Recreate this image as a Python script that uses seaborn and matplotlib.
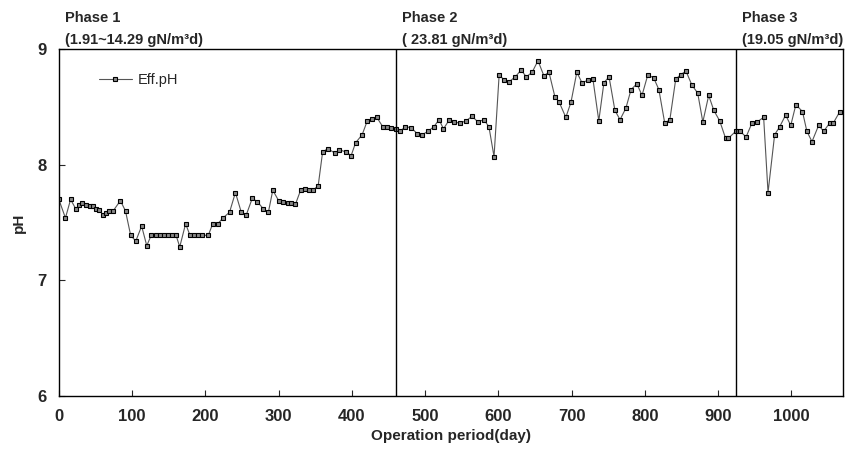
import matplotlib
matplotlib.use("Agg")
import matplotlib.pyplot as plt
import seaborn as sns
import pandas as pd

# effluent pH
days = [0, 9, 16, 23, 28, 32, 37, 42, 46, 51, 55, 60, 64, 68, 74, 84, 91, 98, 105, 113,
        120, 126, 132, 138, 143, 149, 155, 160, 165, 173, 179, 185, 190, 196, 204, 210, 217,
        224, 233, 241, 249, 256, 264, 271, 279, 286, 292, 300, 306, 313, 317, 323, 330, 336,
        342, 347, 354, 360, 367, 377, 383, 392, 399, 405, 414, 421, 428, 434, 442, 448, 454,
        460, 466, 473, 481, 489, 496, 504, 512, 519, 525, 533, 540, 547, 556, 564, 572, 580,
        587, 594, 601, 608, 615, 623, 631, 638, 646, 654, 662, 669, 677, 683, 692, 699, 707,
        714, 722, 729, 737, 744, 751, 759, 766, 774, 781, 789, 796, 804, 812, 819, 827, 834,
        842, 849, 856, 864, 872, 879, 887, 894, 902, 910, 914, 924, 930, 938, 946, 953, 962,
        968, 977, 984, 992, 999, 1006, 1015, 1021, 1028, 1037, 1044, 1052, 1057, 1066]
eff_ph = [7.70, 7.54, 7.70, 7.62, 7.65, 7.67, 7.65, 7.64, 7.64, 7.62, 7.61, 7.57, 7.58, 7.60,
          7.60, 7.69, 7.60, 7.39, 7.34, 7.47, 7.30, 7.39, 7.39, 7.39, 7.39, 7.39, 7.39, 7.39,
          7.29, 7.49, 7.39, 7.39, 7.39, 7.39, 7.39, 7.49, 7.49, 7.54, 7.59, 7.76, 7.59, 7.57,
          7.71, 7.68, 7.62, 7.59, 7.78, 7.69, 7.68, 7.67, 7.67, 7.66, 7.78, 7.79, 7.78, 7.78,
          7.82, 8.11, 8.14, 8.10, 8.13, 8.11, 8.08, 8.19, 8.26, 8.38, 8.40, 8.41, 8.33, 8.33,
          8.32, 8.31, 8.29, 8.33, 8.32, 8.27, 8.26, 8.29, 8.33, 8.39, 8.31, 8.39, 8.37, 8.36,
          8.38, 8.42, 8.37, 8.39, 8.33, 8.07, 8.78, 8.73, 8.72, 8.76, 8.82, 8.76, 8.80, 8.90,
          8.77, 8.80, 8.59, 8.54, 8.41, 8.54, 8.80, 8.71, 8.73, 8.74, 8.38, 8.71, 8.76, 8.47,
          8.39, 8.49, 8.65, 8.70, 8.60, 8.78, 8.75, 8.65, 8.36, 8.39, 8.74, 8.78, 8.81, 8.69,
          8.62, 8.37, 8.60, 8.47, 8.38, 8.23, 8.23, 8.29, 8.29, 8.24, 8.36, 8.37, 8.41, 7.76,
          8.26, 8.33, 8.43, 8.34, 8.52, 8.46, 8.29, 8.20, 8.34, 8.29, 8.36, 8.36, 8.46]

phase_start = [0, 460, 924]
phase_names = ["Phase 1", "Phase 2", "Phase 3"]
phase_loads = ["(1.91~14.29 gN/m\u00b3d)", "( 23.81 gN/m\u00b3d)", "(19.05 gN/m\u00b3d)"]

df = pd.DataFrame({"day": days, "pH": eff_ph})

sns.set_style("ticks")
plt.rcParams["font.family"] = ["Liberation Sans", "DejaVu Sans"]

fig = plt.figure(figsize=(8.53, 4.59), dpi=100)
ax = fig.add_axes([0.069, 0.137, 0.919, 0.756])

sns.lineplot(data=df, x="day", y="pH", ax=ax, color="#555555", linewidth=0.8,
             marker="s", markersize=3.2, markerfacecolor="#888888",
             markeredgecolor="black", markeredgewidth=0.8, label="Eff.pH")

for i, d in enumerate(phase_start):
    if d > 0:
        ax.axvline(d, color="black", linewidth=1.0)
    ax.text(d + 8, 1.07, phase_names[i], transform=ax.get_xaxis_transform(),
            fontsize=10.5, fontweight="bold", ha="left", va="bottom")
    ax.text(d + 8, 1.005, phase_loads[i], transform=ax.get_xaxis_transform(),
            fontsize=10.5, fontweight="bold", ha="left", va="bottom")

ax.set_xlim(0, 1070)
ax.set_ylim(6, 9)
ax.set_xticks(range(0, 1001, 100))
ax.set_yticks([6, 7, 8, 9])
ax.tick_params(direction="in", length=4, width=0.8, labelsize=12, pad=9)
for lab in ax.get_xticklabels() + ax.get_yticklabels():
    lab.set_fontweight("bold")
ax.set_xlabel("Operation period(day)", fontsize=11, fontweight="bold", labelpad=4)
ax.set_ylabel("pH", fontsize=11, fontweight="bold", labelpad=8)
for s in ax.spines.values():
    s.set_linewidth(1.0)
    s.set_color("black")

ax.legend(loc="upper left", bbox_to_anchor=(0.035, 0.97), frameon=False,
          fontsize=10.5, handlelength=2.2, handletextpad=0.4)

fig.savefig("out.png", dpi=100)
